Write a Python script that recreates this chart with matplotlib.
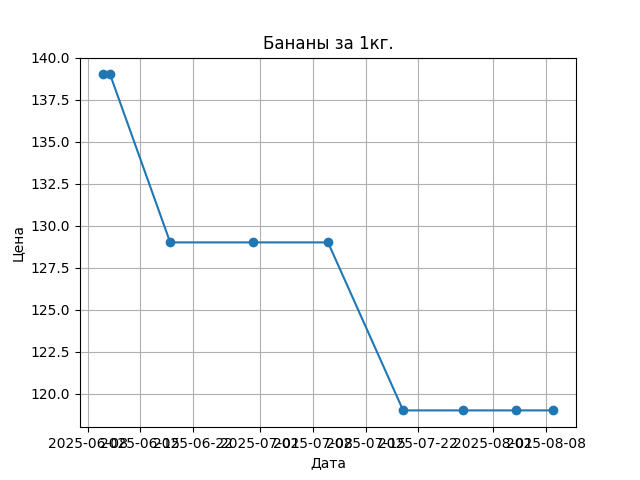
import matplotlib
matplotlib.use('Agg')
import matplotlib.pyplot as plt
import pandas as pd

# dates and prices
dates = ['2025-06-10', '2025-06-11', '2025-06-19', '2025-06-30', '2025-07-10',
         '2025-07-20', '2025-07-28', '2025-08-04', '2025-08-09']
prices = [139, 139, 129, 129, 129, 119, 119, 119, 119]

x = pd.to_datetime(dates)

fig, ax = plt.subplots(figsize=(6.4, 4.8), dpi=100)
ax.plot(x, prices, marker='o')
ax.set_title('Бананы за 1кг.')
ax.set_xlabel('Дата')
ax.set_ylabel('Цена')
ax.grid(True)

fig.savefig('out.png')
